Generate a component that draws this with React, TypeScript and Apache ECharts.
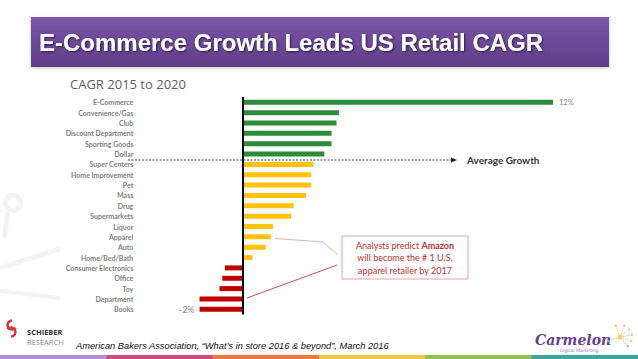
import React, { useEffect, useRef } from "react";
import * as echarts from "echarts";

const categories = [
  "E-Commerce", "Convenience/Gas", "Club", "Discount Department", "Sporting Goods", "Dollar",
  "Super Centers", "Home Improvement", "Pet", "Mass", "Drug", "Supermarkets", "Liquor",
  "Apparel", "Auto", "Home/Bed/Bath", "Consumer Electronics", "Office", "Toy", "Department", "Books",
];
const cagrValues = [
  12, 3.72, 3.62, 3.43, 3.43, 3.15,
  2.73, 2.64, 2.64, 2.44, 1.96, 1.86, 1.16,
  1.08, 0.88, 0.37, -0.7, -0.8, -0.91, -1.68, -1.68,
];
const tiers = [
  "above", "above", "above", "above", "above", "above",
  "avg", "avg", "avg", "avg", "avg", "avg", "avg",
  "avg", "avg", "avg", "neg", "neg", "neg", "neg", "neg",
];
const valueLabels: Record<string, string> = { "E-Commerce": "12%", Books: "-2%" };
const xMin = -2;
const xMax = 12;

const tierColors: Record<string, string> = { above: "#2e8b3c", avg: "#ffc20e", neg: "#c00000" };
const stripeColors = ["#b48fcf", "#d2457e", "#ec7a3c", "#f3c843", "#92c351", "#3fa3a0"];

export default function App() {
  const ref = useRef<HTMLDivElement>(null);
  useEffect(() => {
    if (!ref.current) return;
    const chart = echarts.init(ref.current, null, { renderer: "svg" });
    const data = cagrValues.map((v, i) => {
      const name = categories[i];
      const lbl = valueLabels[name];
      return {
        value: v,
        itemStyle: { color: tierColors[tiers[i]] },
        label: lbl
          ? {
              show: true,
              position: v >= 0 ? "right" : "left",
              distance: v >= 0 ? 6 : 5,
              formatter: lbl,
              color: "#8a8a8a",
              fontSize: v >= 0 ? 7.5 : 9,
              fontFamily: "Lato",
            }
          : { show: false },
      };
    });

    const wm = "#f3f2f9";
    const graphics: any[] = [
      // watermark
      { type: "ring", shape: { cx: 13, cy: 203, r: 10, r0: 5 }, style: { fill: wm }, z: 0 },
      { type: "line", shape: { x1: 4, y1: 238, x2: 8, y2: 212 }, style: { stroke: wm, lineWidth: 5 }, z: 0 },
      { type: "line", shape: { x1: 0, y1: 268, x2: 60, y2: 249 }, style: { stroke: wm, lineWidth: 5 }, z: 0 },
      { type: "line", shape: { x1: 0, y1: 291, x2: 60, y2: 298 }, style: { stroke: wm, lineWidth: 4 }, z: 0 },
      // title bar
      {
        type: "rect",
        shape: { x: 31, y: 17, width: 578, height: 50 },
        style: {
          fill: new echarts.graphic.LinearGradient(0, 0, 0, 1, [
            { offset: 0, color: "#7c55a9" },
            { offset: 1, color: "#5f3d88" },
          ]),
          shadowColor: "rgba(0,0,0,0.25)",
          shadowBlur: 3,
          shadowOffsetY: 1,
        },
      },
      {
        type: "text",
        x: 39,
        y: 42,
        style: {
          text: "E-Commerce Growth Leads US Retail CAGR",
          fill: "#ffffff",
          font: "bold 24px 'Liberation Sans', Arial, sans-serif",
          verticalAlign: "middle",
          textShadowColor: "rgba(0,0,0,0.6)",
          textShadowBlur: 2,
          textShadowOffsetX: 1,
          textShadowOffsetY: 1,
        },
      },
      // average growth
      {
        type: "line",
        shape: { x1: 128, y1: 160, x2: 452, y2: 160 },
        style: { stroke: "#444", lineWidth: 1, lineDash: [2, 1.5] },
        z: 10,
      },
      {
        type: "polygon",
        shape: { points: [[451, 157.5], [457, 160], [451, 162.5]] },
        style: { fill: "#222" },
        z: 10,
      },
      {
        type: "text",
        x: 467,
        y: 160,
        style: {
          text: "Average Growth",
          fill: "#333",
          font: "bold 10px Lato, sans-serif",
          verticalAlign: "middle",
        },
      },
      // annotation connectors
      {
        type: "polyline",
        shape: { points: [[275, 238.5], [323, 242], [338, 255]] },
        style: { stroke: "#e2b3b3", lineWidth: 1, fill: "none" },
      },
      {
        type: "line",
        shape: { x1: 247, y1: 298, x2: 337, y2: 265 },
        style: { stroke: "#c8504d", lineWidth: 1 },
      },
      // annotation box
      {
        type: "rect",
        shape: { x: 342, y: 236, width: 126, height: 43 },
        style: { fill: "#ffffff", stroke: "#e2a4a4", lineWidth: 1 },
      },
      {
        type: "text",
        x: 405,
        y: 257.5,
        style: {
          text: "Analysts predict {b|Amazon}\nwill become the # 1 U.S.\napparel retailer by 2017",
          fill: "#c0302e",
          font: "9px Lato, sans-serif",
          align: "center",
          verticalAlign: "middle",
          lineHeight: 12.5,
          rich: {
            b: { fill: "#c0302e", fontWeight: "bold", fontSize: 9, fontFamily: "Lato", lineHeight: 12.5 },
          },
        },
      },
      // Schieber logo
      {
        type: "arc",
        shape: { cx: 12, cy: 325, r: 4.5, startAngle: Math.PI * 0.2, endAngle: Math.PI * 1.5, clockwise: true },
        style: { stroke: "#d33a3a", lineWidth: 2.5, fill: "none" },
      },
      {
        type: "arc",
        shape: { cx: 11, cy: 332, r: 4.5, startAngle: Math.PI * 1.2, endAngle: Math.PI * 0.5, clockwise: true },
        style: { stroke: "#d33a3a", lineWidth: 2.5, fill: "none" },
      },
      {
        type: "text",
        x: 27,
        y: 331.5,
        style: { text: "SCHIEBER", fill: "#333", font: "bold 7.5px 'Open Sans', sans-serif", verticalAlign: "middle" },
      },
      {
        type: "text",
        x: 27,
        y: 341.5,
        style: { text: "RESEARCH", fill: "#8a8a8a", font: "7.5px 'Open Sans', sans-serif", verticalAlign: "middle" },
      },
      // citation
      {
        type: "text",
        x: 76,
        y: 346,
        style: {
          text: "American Bakers Association, \u201cWhat\u2019s in store 2016 & beyond\u201d, March 2016",
          fill: "#111",
          font: "italic 9.3px 'Liberation Sans', Arial, sans-serif",
          verticalAlign: "middle",
        },
      },
      // Carmelon
      {
        type: "text",
        x: 535,
        y: 340,
        style: {
          text: "Carmelon",
          fill: "#6b3e92",
          font: "italic bold 14px 'DejaVu Serif', serif",
          verticalAlign: "middle",
        },
      },
      {
        type: "text",
        x: 560,
        y: 350.5,
        style: { text: "Digital Marketing", fill: "#9a7db5", font: "italic 4.5px 'DejaVu Sans', sans-serif", verticalAlign: "middle" },
      },
    ];
    // firework rays
    const rays = [
      [-70, "#f3a6c8"], [-40, "#f6c343"], [-10, "#88c6e8"], [20, "#f6c343"], [50, "#b48fcf"], [-110, "#f6c343"], [160, "#88c6e8"],
    ];
    rays.forEach(([deg, col]: any) => {
      const a = (deg * Math.PI) / 180;
      const cx = 620, cy = 337;
      graphics.push({
        type: "line",
        shape: { x1: cx + Math.cos(a) * 3, y1: cy + Math.sin(a) * 3, x2: cx + Math.cos(a) * 11, y2: cy + Math.sin(a) * 11 },
        style: { stroke: col, lineWidth: 0.8, lineDash: [1.5, 1] },
      });
      graphics.push({
        type: "circle",
        shape: { cx: cx + Math.cos(a) * 12, cy: cy + Math.sin(a) * 12, r: 1 },
        style: { fill: col },
      });
    });
    graphics.push({ type: "circle", shape: { cx: 620, cy: 337, r: 2.5 }, style: { fill: "#f6d34a" } });
    // footer stripe
    stripeColors.forEach((c, i) => {
      graphics.push({
        type: "rect",
        shape: { x: (638 / 6) * i, y: 355, width: 638 / 6 + 0.5, height: 4 },
        style: { fill: c },
      });
    });

    chart.setOption({
      animation: false,
      backgroundColor: "#ffffff",
      title: {
        text: "CAGR 2015 to 2020",
        left: 65,
        top: 72,
        textStyle: { fontFamily: "'Open Sans'", fontSize: 13, fontWeight: "normal", color: "#5f5f5f" },
      },
      grid: { left: 191.3, top: 97.1, width: 361.7, height: 217.4, containLabel: false },
      xAxis: {
        type: "value",
        min: xMin,
        max: xMax,
        show: false,
      },
      yAxis: {
        type: "category",
        data: categories,
        inverse: true,
        axisLine: { show: false },
        axisTick: { show: false },
        axisLabel: {
          margin: 58,
          fontSize: 7,
          fontFamily: "Lato",
          fontWeight: "bold",
          color: "#7f7f7f",
          align: "right",
        },
      },
      series: [
        {
          type: "bar",
          data,
          barWidth: 5,
          markLine: {
            silent: true,
            symbol: "none",
            label: { show: false },
            lineStyle: { color: "#000", width: 2, type: "solid" },
            data: [{ xAxis: 0 }],
          },
        },
      ],
      graphic: graphics,
    });
    return () => chart.dispose();
  }, []);
  return <div ref={ref} style={{ position: "absolute", left: 0, top: 0, width: 638, height: 359 }} />;
}
